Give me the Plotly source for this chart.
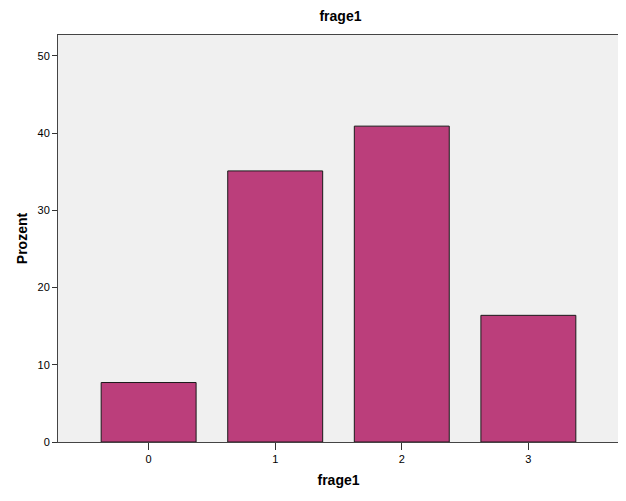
import plotly.graph_objects as go

categories = [0, 1, 2, 3]
tick_labels = ["0", "1", "2", "3"]
percent = [7.7, 35.1, 40.9, 16.4]

fig = go.Figure(go.Bar(
    x=categories, y=percent, width=0.75,
    marker=dict(color="#BB3E7B", line=dict(color="#1a1a1a", width=1)),
))

font = "Liberation Sans, Arial, sans-serif"
fig.update_layout(
    width=618, height=493,
    margin=dict(l=50, r=7, t=27, b=59),
    paper_bgcolor="white", plot_bgcolor="#F0F0F0",
    font=dict(family=font, size=11, color="black"),
    title=dict(text="<b>frage1</b>", x=0.538, xanchor="center", y=0.984, yanchor="middle",
               font=dict(size=14, family=font)),
    showlegend=False,
)
fig.update_xaxes(
    range=[-0.716, 3.716], tickvals=categories, ticktext=tick_labels,
    ticks="outside", ticklen=7, tickcolor="#333",
    showline=True, linecolor="#444", linewidth=1, mirror=True,
    showgrid=False, zeroline=False, automargin=False,
    title=dict(text="<b>frage1</b>", font=dict(size=14, family=font), standoff=10),
)
fig.update_yaxes(
    range=[0, 52.7], tickvals=[0, 10, 20, 30, 40, 50],
    ticks="outside", ticklen=5, tickcolor="#333",
    showline=True, linecolor="#444", linewidth=1, mirror=True,
    showgrid=False, zeroline=False, automargin=False,
    title=dict(text="<b>Prozent</b>", font=dict(size=14, family=font), standoff=6),
)

fig.write_html("out.html")
